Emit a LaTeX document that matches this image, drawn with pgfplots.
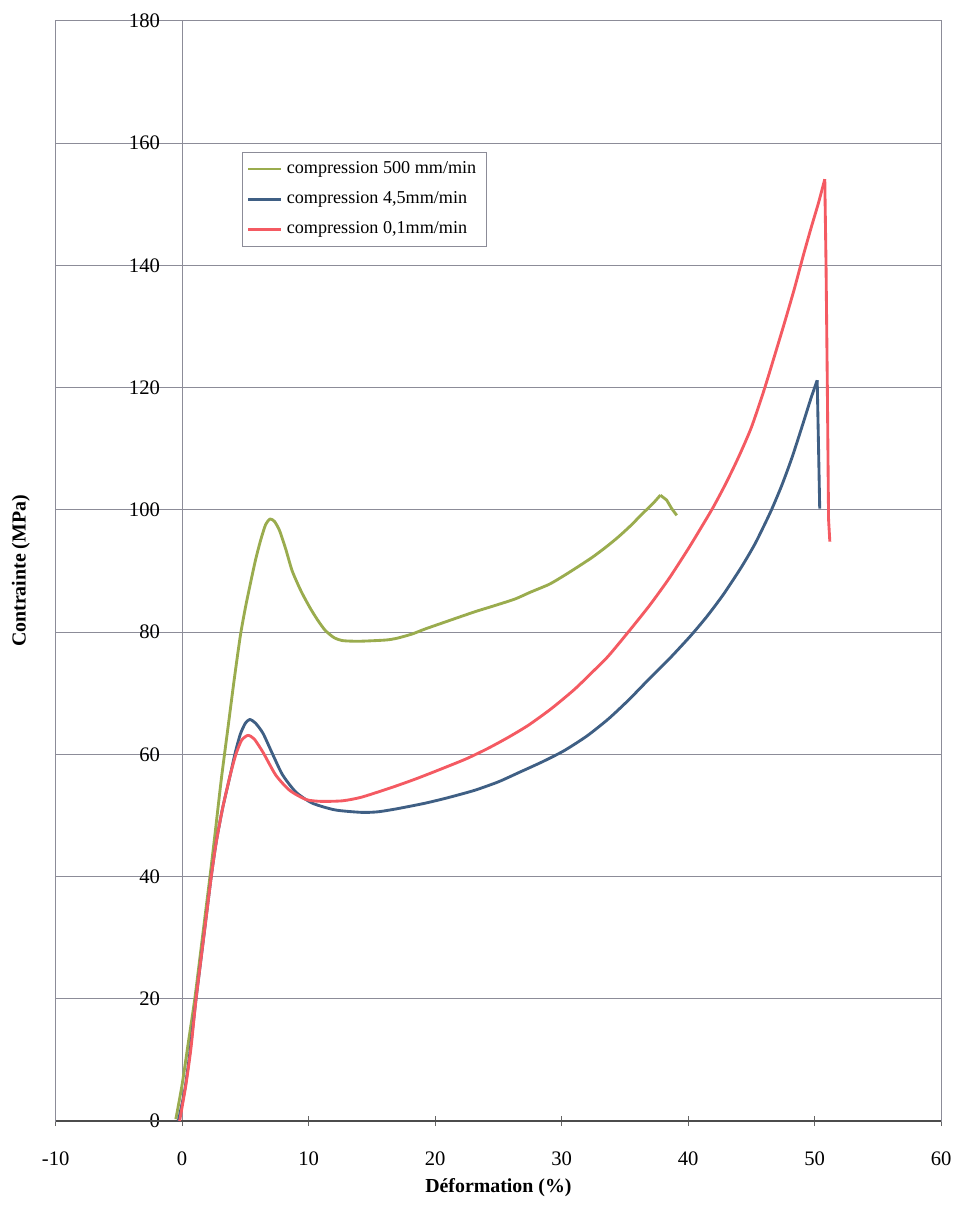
\documentclass[border=0pt]{standalone}
\usepackage{fontspec}
\setmainfont{Liberation Serif}
\usepackage{pgfplots}
\pgfplotsset{compat=1.18}
\definecolor{cgreen}{HTML}{9AAC4E}
\definecolor{cblue}{HTML}{3F5F84}
\definecolor{cred}{HTML}{F45A62}
\definecolor{gridc}{HTML}{8C8C98}
\begin{document}
\begin{tikzpicture}
\begin{axis}[
 name=ax,
 scale only axis,
 width=356.4pt, height=442.8pt,
 xmin=-10, xmax=60, ymin=0, ymax=180,
 xtick={-10,0,...,60}, ytick={0,20,...,180},
 axis line style={draw=gridc, line width=0.5pt},
 ymajorgrids, major grid style={draw=gridc, line width=0.4pt},
 x tick style={draw=gray!80!black, line width=0.5pt},
 tick align=center, major tick length=4pt,
 y tick style={draw=none},
 xtick pos=bottom, ytick pos=left,
 /pgf/number format/assume math mode=true,
 tick label style={font=\fontsize{8.3}{10}\selectfont},
 xticklabel style={yshift=-7pt},
 yticklabel style={xshift=47.5pt},
 xlabel={Déformation (\%)}, ylabel={Contrainte (MPa)},
 label style={font=\bfseries\fontsize{8}{10}\selectfont},
 xlabel style={at={(axis description cs:0.5,-0.0605)}, anchor=center},
 ylabel style={at={(axis description cs:-0.0393,0.5)}, anchor=center},
 extra x ticks={0}, extra x tick labels={}, extra x tick style={grid=major, major tick length=0pt},
 legend style={at={(rel axis cs:0.210,0.881)}, anchor=north west, draw=gridc, line width=0.4pt,
   font=\fontsize{7.3}{9}\selectfont, inner xsep=2pt, inner ysep=1.5pt, row sep=1.9pt, cells={anchor=west}},
 legend image code/.code={\draw[#1, line width=1pt] (0pt,0pt) -- (13pt,0pt);},
 every axis plot/.append style={line width=1.15pt, line join=round},
]
\addplot[forget plot, draw=gray!60!black, line width=0.8pt] coordinates {(-10,0) (60,0)};
\addplot[cgreen, smooth, tension=0.4] coordinates {
(-0.5,0.3) (0.0,6) (0.5,13) (1.0,20) (1.6,30) (2.2,40) (2.6,47) (3.1,56) (3.6,64) (4.1,72) (4.6,79.4)
(5.0,84) (5.4,88) (5.8,91.8) (6.2,95) (6.6,97.6) (6.95,98.5) (7.3,98.1) (7.7,96.6) (8.2,93.5) (8.7,90)
(9.4,86.7) (10.1,84) (10.7,82) (11.3,80.3) (12.0,79.1) (12.7,78.6) (14.0,78.5) (16.1,78.7) (17.0,79)
(18.2,79.7) (19.2,80.5) (21.0,81.8) (23.1,83.3) (24.5,84.2) (26.3,85.4) (27.5,86.5) (29.0,87.8) (30.0,89)
(31.0,90.3) (32.4,92.2) (33.5,93.9) (34.5,95.6) (35.5,97.5) (36.3,99.2) (37.2,101) (37.8,102.4)
};
\addlegendentry{compression 500 mm/min}
\addplot[cgreen, forget plot] coordinates {(37.8,102.4) (38.3,101.6) (38.7,100.2) (39.1,99.1)};
\addplot[cblue, smooth, tension=0.4] coordinates {
(-0.3,0) (0.2,5) (0.6,11) (1.1,20) (1.7,30) (2.3,40) (2.7,45.7) (3.2,51.2) (3.8,56.6) (4.2,60.3) (4.6,63.3)
(5.0,65.1) (5.35,65.7) (5.8,65.1) (6.4,63.4) (7.2,59.8) (7.95,56.6) (9.0,53.8) (10.3,52) (12.1,50.9)
(14.2,50.5) (15.5,50.6) (17.0,51.1) (19.2,52) (21.0,52.9) (23.1,54.1) (25.0,55.5) (26.6,57) (28.5,58.8)
(30.2,60.6) (32.0,63) (33.7,65.8) (35.3,68.9) (36.9,72.3) (38.5,75.6) (40.2,79.4) (41.5,82.6) (42.8,86.2)
(44.2,90.6) (45.3,94.5) (46.5,99.6) (47.4,104) (48.2,108.5) (49.0,113.6) (49.7,118.2) (50.2,121.2)
};
\addlegendentry{compression 4,5mm/min}
\addplot[cblue, forget plot] coordinates {(50.2,121.2) (50.3,110.9) (50.4,100.2)};
\addplot[cred, smooth, tension=0.4] coordinates {
(-0.2,0) (0.3,6) (0.7,12) (1.1,20) (1.7,30) (2.3,40) (2.7,45.7) (3.2,51.2) (3.8,56.6) (4.25,60) (4.7,62.3)
(5.2,63.1) (5.7,62.5) (6.4,60.3) (7.4,56.6) (8.5,54.1) (9.8,52.6) (11.0,52.3) (12.7,52.4) (14.2,53)
(16.6,54.6) (18.5,56) (20.6,57.7) (22.5,59.3) (24.2,61) (25.8,62.8) (27.4,64.8) (29.2,67.5) (31.0,70.6)
(32.4,73.4) (33.7,76.1) (35.5,80.6) (37.0,84.5) (38.5,88.8) (40.0,93.6) (41.0,97) (42.0,100.5) (43.0,104.4)
(44.0,108.7) (45.0,113.5) (46.0,119.6) (46.8,125) (47.6,130.5) (48.4,136.2) (49.1,141.6) (49.7,146)
(50.3,150.2) (50.8,154.1)
};
\addlegendentry{compression 0,1mm/min}
\addplot[cred, forget plot] coordinates {(50.8,154.1) (50.9,140) (51.0,120.6) (51.1,98.4) (51.2,94.8)};
\end{axis}
\path (ax.south west) ++(-22.4pt,-30.8pt) rectangle ++(385.6pt,482pt);
\end{tikzpicture}
\end{document}
